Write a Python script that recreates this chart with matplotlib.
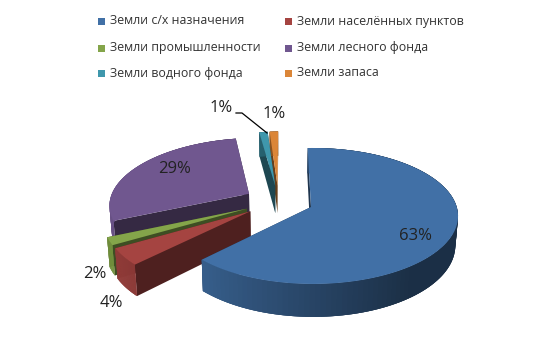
import numpy as np
import matplotlib
matplotlib.use('Agg')
import matplotlib.pyplot as plt
from matplotlib.patches import Rectangle

names = ['Земли с/х назначения', 'Земли населённых пунктов', 'Земли промышленности',
         'Земли лесного фонда', 'Земли водного фонда', 'Земли запаса']
shares = [62.6, 4.2, 1.9, 29.1, 1.1, 1.1]
labels = ['63%', '4%', '2%', '29%', '1%', '1%']
colors = ['#4170A6', '#A54441', '#84A54A', '#70578F', '#3F97AC', '#DB8638']

# pixel layout of the picture
CX, CY = 311, 207
A, B, K, KU = 144, 66.8, 0.132, -0.012
DEPTH = 28.6
EXPLODE = 0.245
START = -1.5
label_pos = [(415, 236), (111, 303), (95, 274), (175, 169), (221, 108), (274, 114)]
legend_pos = [(98, 21), (285, 21), (98, 48), (285, 48), (98, 73), (285, 73)]


def project(u, v, bottom=False):
    s = 1 + K * v + KU * u
    x = CX + A * u / s
    y = CY - B * v / s
    if bottom:
        x = 280 + (x - 280) * 0.985
        y = y + DEPTH / s
    return x, y


def shade(color, f):
    rgb = np.array(matplotlib.colors.to_rgb(color))
    return tuple(np.clip(rgb * f, 0, 1))


fracs = np.array(shares) / sum(shares) * 360
ends = START + np.cumsum(fracs)
starts = ends - fracs
mids = np.radians((starts + ends) / 2)
off_u = EXPLODE * (np.sin(mids) - np.sin(mids[0]))
off_v = EXPLODE * (np.cos(mids) - np.cos(mids[0]))

fig = plt.figure(figsize=(5.6, 3.51), dpi=100)
ax = fig.add_axes([0, 0, 1, 1])
ax.set_xlim(0, 560)
ax.set_ylim(351, 0)
ax.axis('off')

# back slices first, the front ones cover them
for i in [4, 5, 3, 2, 1, 0]:
    th = np.radians(np.linspace(starts[i], ends[i], 120))
    u = off_u[i] + np.sin(th)
    v = off_v[i] + np.cos(th)
    top = project(u, v)
    low = project(u, v, True)
    apex_top = project(off_u[i], off_v[i])
    apex_low = project(off_u[i], off_v[i], True)

    # flat inner walls
    dark = shade(colors[i], 0.47)
    for k in [0, -1]:
        ax.fill([apex_top[0], top[0][k], low[0][k], apex_low[0]],
                [apex_top[1], top[1][k], low[1][k], apex_low[1]],
                color=dark, lw=0, zorder=i * -3 + 20)

    # outer wall, darker to the right. strips overlap so no seams show
    for k in range(len(th) - 1):
        j = min(k + 3, len(th) - 1)
        f = np.clip(0.62 - 0.32 * np.sin(th[k]), 0.42, 0.95)
        ax.fill([top[0][k], top[0][j], low[0][j], low[0][k]],
                [top[1][k], top[1][j], low[1][j], low[1][k]],
                color=shade(colors[i], f), lw=0, zorder=i * -3 + 21)

    ax.fill(np.r_[apex_top[0], top[0]], np.r_[apex_top[1], top[1]],
            color=colors[i], lw=0, zorder=i * -3 + 22)

# leader line of the teal slice
ax.plot([236, 242, 267], [113, 113, 133], color='black', lw=0.9, zorder=30)

for lab, pos in zip(labels, label_pos):
    ax.text(pos[0], pos[1], lab, fontsize=12, family='Open Sans', color='#222222',
            ha='center', va='center', zorder=31)

for name, col, pos in zip(names, colors, legend_pos):
    ax.add_patch(Rectangle((pos[0], pos[1] - 3.5), 7, 7, color=col, lw=0))
    ax.text(pos[0] + 12, pos[1], name, fontsize=8.95, family='Open Sans', color='#333333',
            ha='left', va='center')

fig.savefig('out.png', dpi=100)
